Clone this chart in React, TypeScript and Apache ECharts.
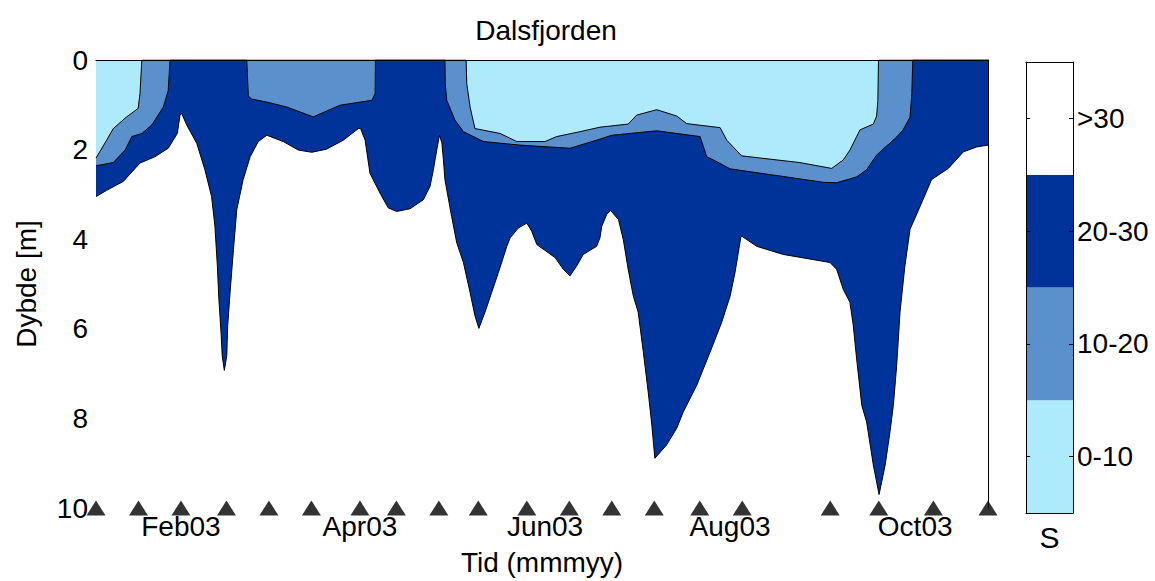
import React, { useEffect, useRef } from 'react';
import * as echarts from 'echarts';

const titleText = 'Dalsfjorden';
const xAxisName = 'Tid (mmmyy)';
const yAxisName = 'Dybde [m]';
const colorbarName = 'S';

// x values are day of year 2003
const dayMin = 4;
const dayMax = 298;
const xTickDays = [32, 91, 152, 213, 274];
const xTickLabels = ['Feb03', 'Apr03', 'Jun03', 'Aug03', 'Oct03'];
const depthTicks = [0, 2, 4, 6, 8, 10];

// sampling dates (day of year), shown as triangles at 10 m
const sampleDays = [4, 18, 32, 47, 61, 75, 91, 103, 117, 130, 146, 160, 174, 188, 203, 217, 246, 262, 280, 298];
const sampleDepth = 10;

// colour classes of salinity
const colorbarLabels = ['0-10', '10-20', '20-30', '>30'];
const colorbarColors = ['#ADEBFC', '#5A90CC', '#003399', '#FFFFFF'];

// depth [m] of the 30 isohaline (bottom of the 20-30 class) vs day of year
const isohaline30: [number, number][] = [
  [4.0, 3.05], [7.5, 2.91], [13.0, 2.71], [18.5, 2.3], [23.4, 2.16], [27.8, 1.97], [30.8, 1.64], [31.7, 1.23],
  [32.2, 1.19], [33.9, 1.45], [37.2, 1.86], [39.9, 2.45], [42.1, 3.05], [43.2, 3.71], [44.0, 4.6], [44.5, 5.34],
  [45.2, 6.07], [45.6, 6.6], [46.3, 6.93], [47.1, 6.6], [47.4, 5.93], [48.2, 5.18], [49.3, 4.23], [50.4, 3.34],
  [52.5, 2.67], [54.8, 2.16], [57.5, 1.82], [60.3, 1.68], [65.7, 1.82], [70.7, 2.01], [75.1, 2.06], [80.0, 1.99],
  [85.5, 1.79], [90.5, 1.53], [91.2, 1.53], [92.7, 1.79], [94.3, 2.53], [97.6, 2.97], [100.3, 3.3], [103.1, 3.38],
  [107.5, 3.32], [111.9, 3.12], [114.1, 2.82], [115.2, 2.45], [116.3, 2.01], [117.2, 1.68], [118.0, 1.85],
  [118.5, 2.23], [119.0, 2.67], [121.2, 3.49], [122.9, 4.08], [125.1, 4.52], [127.3, 5.19], [128.9, 5.71],
  [130.2, 5.99], [132.2, 5.63], [134.4, 5.19], [136.6, 4.75], [139.4, 4.16], [140.5, 3.97], [143.2, 3.75],
  [146.0, 3.64], [147.6, 3.82], [149.3, 4.12], [155.3, 4.41], [158.0, 4.67], [160.2, 4.82], [162.4, 4.6],
  [164.6, 4.34], [169.0, 4.16], [170.1, 3.97], [170.7, 3.71], [172.3, 3.45], [173.6, 3.36], [176.2, 3.56],
  [177.8, 4.01], [179.4, 4.67], [181.1, 5.27], [182.7, 5.63], [184.4, 6.52], [186.0, 7.41], [187.2, 8.15],
  [188.2, 8.89], [192.1, 8.59], [195.4, 8.22], [197.6, 7.85], [202.0, 7.26], [206.4, 6.52], [210.2, 5.86],
  [213.0, 5.27], [214.6, 4.75], [216.5, 3.97], [216.8, 3.93], [221.8, 4.16], [230.5, 4.34], [245.9, 4.52],
  [248.1, 4.67], [250.3, 5.12], [252.5, 5.41], [253.6, 5.93], [254.7, 6.67], [256.4, 7.71], [258.0, 8.08],
  [260.2, 9.04], [262.1, 9.7], [264.1, 9.04], [265.7, 8.3], [266.8, 7.71], [267.9, 6.82], [269.0, 5.63],
  [270.6, 4.6], [272.3, 3.78], [275.6, 3.27], [279.4, 2.67], [284.9, 2.42], [289.9, 2.05], [294.3, 1.94],
  [298.0, 1.9],
];

// depth [m] of the 20 isohaline (bottom of the 10-20 class)
const isohaline20: [number, number][] = [
  [4.0, 2.36], [9.7, 2.29], [13.6, 2.01], [15.8, 1.71], [19.1, 1.64], [22.4, 1.45], [26.2, 1.05], [27.8, 0.68],
  [28.4, 0], [53.7, 0], [54.2, 0.8], [55.2, 0.87], [60.3, 0.94], [66.9, 1.05], [75.6, 1.27], [84.4, 1.01],
  [94.9, 0.9], [96.0, 0.75], [96.1, 0], [119.0, 0], [119.1, 0.5], [119.6, 0.9], [122.3, 1.34], [125.1, 1.6],
  [131.7, 1.82], [143.7, 1.9], [160.2, 1.97], [169.0, 1.79], [174.0, 1.68], [188.8, 1.58], [203.1, 1.71],
  [205.3, 2.16], [207.5, 2.23], [213.0, 2.43], [230.5, 2.6], [243.7, 2.73], [248.1, 2.74], [254.7, 2.61],
  [258.0, 2.45], [261.3, 2.12], [267.9, 1.72], [270.0, 1.56], [272.3, 1.28], [272.9, 0.75], [273.2, 0],
  [298.0, 0],
];

// depth [m] of the 10 isohaline (bottom of the 0-10 class)
const isohaline10: [number, number][] = [
  [4.0, 2.19], [7.5, 1.79], [9.7, 1.53], [14.1, 1.27], [17.9, 1.08], [18.5, 0.75], [19.1, 0], [126.0, 0],
  [126.2, 0.53], [127.3, 1.05], [128.9, 1.53], [137.2, 1.64], [142.7, 1.82], [152.0, 1.82], [155.8, 1.71],
  [163.5, 1.6], [170.1, 1.5], [179.4, 1.43], [182.2, 1.23], [188.8, 1.11], [195.4, 1.25], [198.7, 1.42],
  [209.7, 1.51], [211.9, 1.79], [216.8, 2.14], [236.0, 2.29], [246.5, 2.42], [250.3, 2.23], [252.5, 2.01],
  [254.7, 1.71], [255.8, 1.56], [260.2, 1.43], [261.3, 1.25], [261.7, 0.9], [261.9, 0], [298.0, 0],
];

const FONT = '"Liberation Sans", Arial, Helvetica, sans-serif';
const BLACK = '#000000';
const FS = 28;

export default function App() {
  const ref = useRef<HTMLDivElement>(null);

  useEffect(() => {
    if (!ref.current) return;
    const chart = echarts.init(ref.current, undefined, { renderer: 'svg' });

    const hidden = { show: false };
    const boxLine = { show: true, onZero: false, lineStyle: { color: BLACK, width: 1 } };

    const areaSeries = (name: string, data: [number, number][], color: string) => ({
      name,
      type: 'line',
      xAxisIndex: 0,
      yAxisIndex: 0,
      data,
      showSymbol: false,
      symbol: 'none',
      smooth: false,
      lineStyle: { color: BLACK, width: 1 },
      areaStyle: { color, opacity: 1, origin: 'start' },
      z: 2,
    });

    const option: any = {
      animation: false,
      backgroundColor: '#ffffff',
      textStyle: { fontFamily: FONT, color: BLACK },
      title: {
        text: titleText,
        left: 541,
        top: 11,
        textAlign: 'center',
        textStyle: { fontFamily: FONT, fontSize: FS, fontWeight: 'normal', color: BLACK },
      },
      grid: [
        { left: 96, right: 167, top: 60, bottom: 71 },
        { left: 1026, width: 47, top: 62, bottom: 68 },
      ],
      xAxis: [
        {
          gridIndex: 0,
          type: 'value',
          min: dayMin,
          max: dayMax,
          position: 'bottom',
          axisLine: hidden,
          axisTick: hidden,
          splitLine: hidden,
          axisLabel: {
            customValues: xTickDays,
            formatter: (v: number) => {
              const i = xTickDays.indexOf(Math.round(v));
              return i >= 0 ? xTickLabels[i] : '';
            },
            fontFamily: FONT,
            fontSize: FS,
            color: BLACK,
            margin: 4,
          },
          name: xAxisName,
          nameLocation: 'middle',
          nameGap: 40,
          nameTextStyle: { fontFamily: FONT, fontSize: FS, color: BLACK },
        },
        {
          gridIndex: 0,
          type: 'value',
          min: dayMin,
          max: dayMax,
          position: 'top',
          axisLine: boxLine,
          axisTick: hidden,
          axisLabel: hidden,
          splitLine: hidden,
          z: 10,
        },
        {
          gridIndex: 1,
          type: 'value',
          min: 0,
          max: 1,
          position: 'bottom',
          axisLine: boxLine,
          axisTick: hidden,
          axisLabel: hidden,
          splitLine: hidden,
          name: colorbarName,
          nameLocation: 'middle',
          nameGap: 9,
          nameTextStyle: { fontFamily: FONT, fontSize: 30, color: BLACK },
          z: 10,
        },
        {
          gridIndex: 1,
          type: 'value',
          min: 0,
          max: 1,
          position: 'top',
          axisLine: boxLine,
          axisTick: hidden,
          axisLabel: hidden,
          splitLine: hidden,
          z: 10,
        },
      ],
      yAxis: [
        {
          gridIndex: 0,
          type: 'value',
          inverse: true,
          min: depthTicks[0],
          max: depthTicks[depthTicks.length - 1],
          interval: 2,
          position: 'left',
          axisLine: hidden,
          axisTick: hidden,
          splitLine: hidden,
          axisLabel: { fontFamily: FONT, fontSize: FS, color: BLACK, margin: 8, padding: [0, 0, 4, 0] },
          name: yAxisName,
          nameLocation: 'middle',
          nameGap: 56,
          nameRotate: 90,
          nameTextStyle: { fontFamily: FONT, fontSize: FS, color: BLACK },
        },
        {
          gridIndex: 0,
          type: 'value',
          inverse: true,
          min: 0,
          max: 10,
          position: 'right',
          axisLine: boxLine,
          axisTick: hidden,
          axisLabel: hidden,
          splitLine: hidden,
          z: 10,
        },
        {
          gridIndex: 1,
          type: 'category',
          data: colorbarLabels,
          position: 'right',
          axisLine: boxLine,
          axisTick: { show: true, inside: true, alignWithLabel: true, length: 4, lineStyle: { color: BLACK } },
          axisLabel: { fontFamily: FONT, fontSize: FS, color: BLACK, margin: 4, padding: [0, 0, 6, 0] },
          splitLine: hidden,
          z: 10,
        },
        {
          gridIndex: 1,
          type: 'category',
          data: colorbarLabels,
          position: 'left',
          axisLine: boxLine,
          axisTick: { show: true, inside: true, alignWithLabel: true, length: 4, lineStyle: { color: BLACK } },
          axisLabel: hidden,
          splitLine: hidden,
          z: 10,
        },
      ],
      series: [
        areaSeries('20-30', isohaline30, colorbarColors[2]),
        areaSeries('10-20', isohaline20, colorbarColors[1]),
        areaSeries('0-10', isohaline10, colorbarColors[0]),
        {
          name: 'Prøvetaking',
          type: 'scatter',
          xAxisIndex: 0,
          yAxisIndex: 0,
          data: sampleDays.map((d) => [d, sampleDepth]),
          symbol: 'triangle',
          symbolSize: [19, 15],
          itemStyle: { color: BLACK },
          clip: false,
          z: 8,
        },
        {
          name: 'colorbar',
          type: 'bar',
          xAxisIndex: 2,
          yAxisIndex: 2,
          data: colorbarColors.map((c) => ({ value: 1, itemStyle: { color: c } })),
          barWidth: '100%',
          barCategoryGap: '0%',
          z: 2,
        },
      ],
    };

    chart.setOption(option);
    return () => chart.dispose();
  }, []);

  return (
    <div
      ref={ref}
      style={{ position: 'absolute', left: 0, top: 0, width: 1155, height: 581 }}
    />
  );
}
